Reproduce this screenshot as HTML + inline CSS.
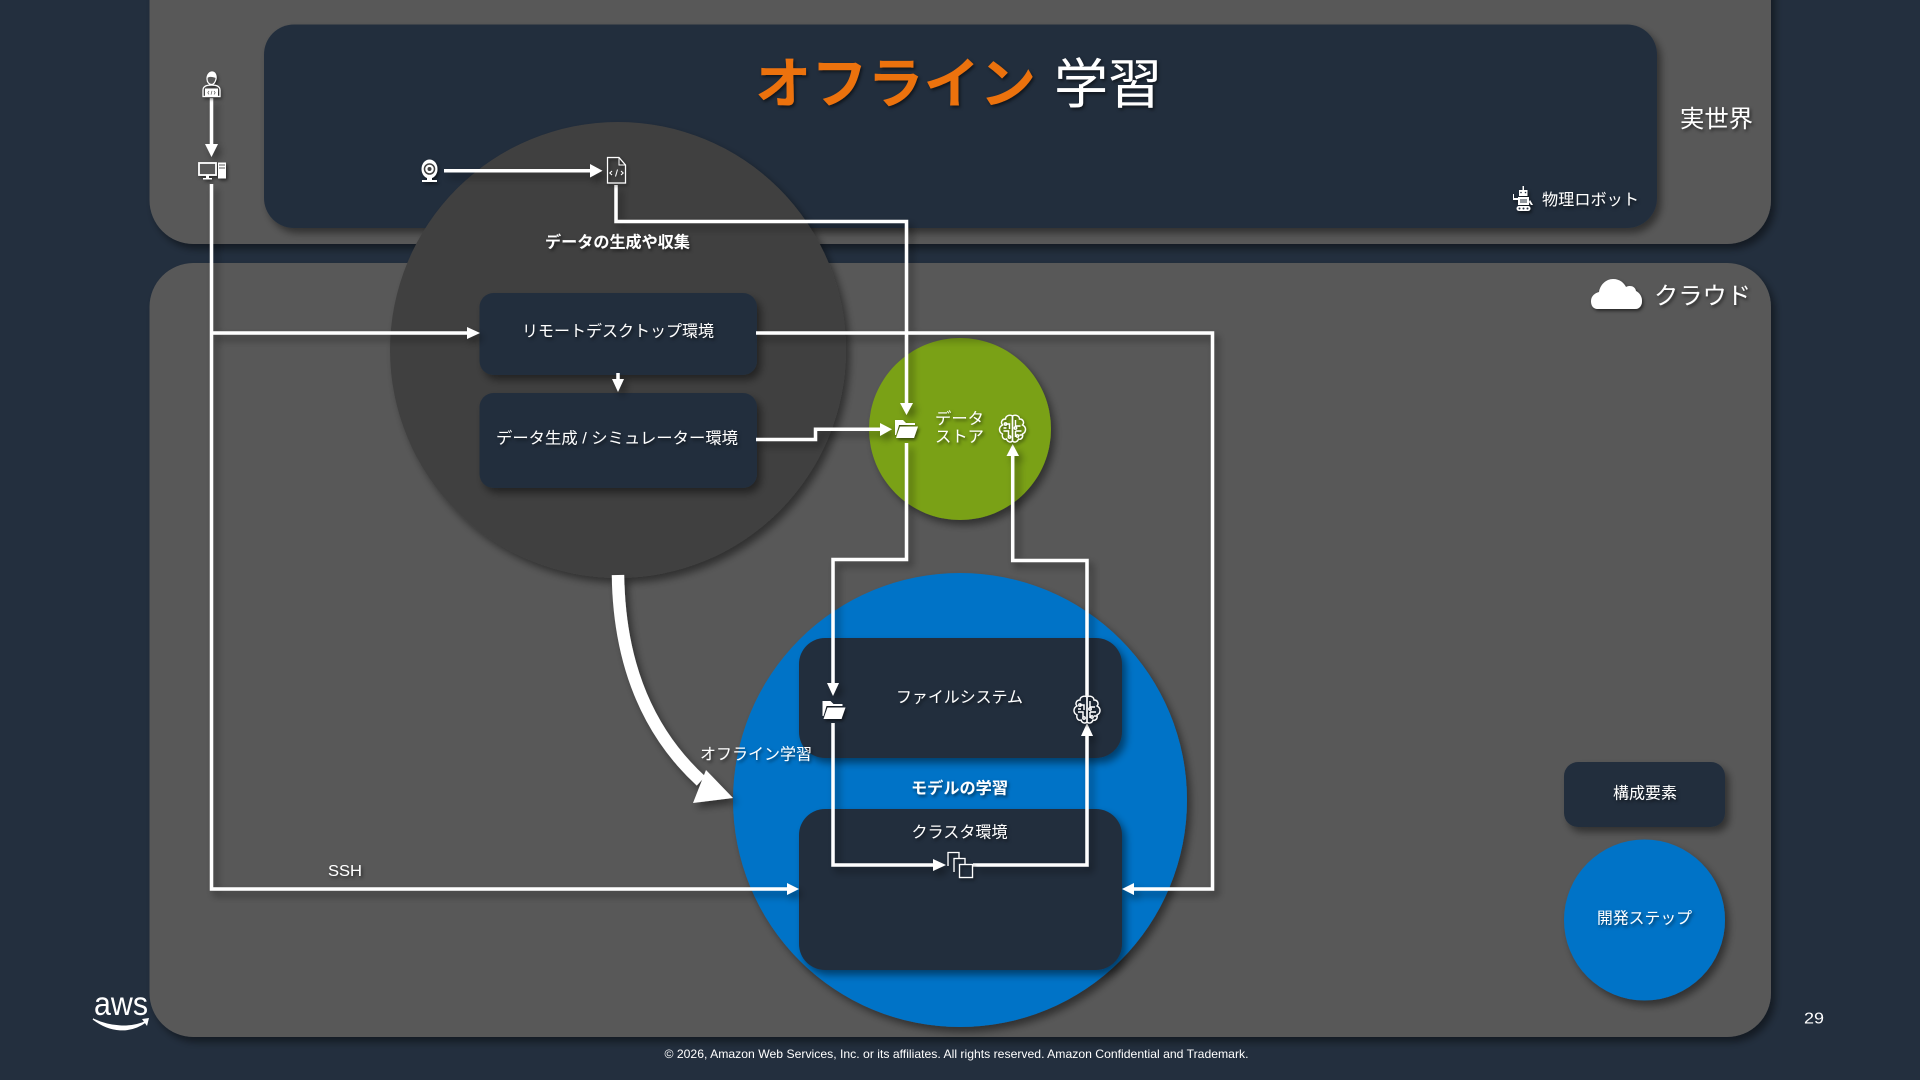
<!DOCTYPE html>
<html lang="ja"><head><meta charset="utf-8"><title>オフライン学習</title>
<style>
html,body{margin:0;padding:0;background:#232f3e;width:1920px;height:1080px;overflow:hidden}
svg{display:block}
text{font-family:"Liberation Sans","Noto Sans CJK JP",sans-serif;fill:#fff;font-size:16px}
</style></head><body>
<svg xmlns="http://www.w3.org/2000/svg" width="1920" height="1080" viewBox="0 0 1920 1080">
<defs>
<filter id="s" filterUnits="userSpaceOnUse" x="0" y="0" width="1920" height="1080"><feDropShadow dx="4" dy="5" stdDeviation="4" flood-color="#000" flood-opacity=".45"/></filter>
<filter id="t" filterUnits="userSpaceOnUse" x="0" y="0" width="1920" height="1080"><feDropShadow dx="1.5" dy="2" stdDeviation="1.5" flood-color="#000" flood-opacity=".55"/></filter>
<g id="brain" fill="none" stroke="#fff" stroke-width="1.4">
<path d="M0,-13 C-3,-15 -7,-13 -7,-10 C-11,-10 -12,-6 -10,-4 C-14,-2 -14,3 -10,5 C-11,9 -8,11 -6,10 C-5,13 -2,14 0,12 Z"/>
<path d="M0,-13 C3,-15 7,-13 7,-10 C11,-10 12,-6 10,-4 C14,-2 14,3 10,5 C11,9 8,11 6,10 C5,13 2,14 0,12 Z"/>
<path d="M-7,-5 L-3,-5 L-3,0 M-9,2 L-4,2 L-4,7 M3,-9 L3,-3 L8,-3 M3,2 L9,2 M3,2 L3,8 M-9,-1 L-6,-1 M7,6 L10,6"/>
<circle cx="-7" cy="-5" r="1.2"/><circle cx="3" cy="-1" r="1.2"/><circle cx="5" cy="7" r="1.2"/><circle cx="-3" cy="8" r="1.2"/>
</g>
<g id="folder"><path d="M-11,-9 L-3,-9 L0,-6 L9,-6 L9,-4 L-7,-4 L-10,6 L-11,6 Z" fill="#fff"/><path d="M-6,-2.5 L12,-2.5 L8,9 L-10,9 Z" fill="#fff"/></g>
</defs>
<rect width="1920" height="1080" fill="#232f3e"/>

<!-- panels -->
<rect x="149.500" y="-60" width="1621.500" height="304" rx="44" fill="#595959" filter="url(#s)"/>
<rect x="264" y="24.500" width="1393" height="203.500" rx="30" fill="#232f3e" filter="url(#s)"/>
<rect x="149.500" y="263" width="1621.500" height="774" rx="44" fill="#595959" filter="url(#s)"/>

<!-- circles -->
<circle cx="618" cy="350" r="228" fill="#404040" filter="url(#s)"/>
<circle cx="960" cy="429" r="91" fill="#7aa116" filter="url(#s)"/>
<circle cx="960" cy="800" r="227" fill="#0073c7" filter="url(#s)"/>

<!-- boxes -->
<rect x="479.500" y="293" width="277.500" height="82" rx="14" fill="#232f3e" filter="url(#s)"/>
<rect x="479.500" y="393" width="277.500" height="95" rx="14" fill="#232f3e" filter="url(#s)"/>
<rect x="799" y="638" width="323" height="120" rx="26" fill="#232f3e" filter="url(#s)"/>
<rect x="799" y="809" width="323" height="161" rx="26" fill="#232f3e" filter="url(#s)"/>
<rect x="1564" y="762" width="161" height="65" rx="14" fill="#232f3e" filter="url(#s)"/>
<circle cx="1644.500" cy="920" r="80.500" fill="#0073c7" filter="url(#s)"/>

<!-- connectors -->
<g filter="url(#s)">
<g fill="none" stroke="#fff" stroke-width="3.5">
<path d="M211.500,98V146"/>
<path d="M211.500,184V889H788"/>
<path d="M211.500,333H469"/>
<path d="M444,170.700H592"/>
<path d="M616,185V221.500H906.500V405"/>
<path d="M756,333H1212.500V889H1133"/>
<path d="M618,373V381"/>
<path d="M756,439.500H815.500V429.200H882"/>
<path d="M906.500,443V559.500H833V685"/>
<path d="M833,723V865H935"/>
<path d="M973,865H1087V736"/>
<path d="M1012.700,454V560.500H1087V696"/>
<path d="M618,575C619,650 640,725 701,781" stroke-width="12.500"/>
</g>
<g fill="#fff">
<path d="M205,144H218L211.500,157Z"/>
<path d="M467,327L480,333L467,339Z"/>
<path d="M590,164L602.500,170.700L590,177.500Z"/>
<path d="M900,403H913L906.500,415Z"/>
<path d="M612,379H624L618,392Z"/>
<path d="M880,423L892,429.200L880,436Z"/>
<path d="M827,683H839L833,696Z"/>
<path d="M933,859L946,865L933,871Z"/>
<path d="M1081,736H1093L1087,723Z"/>
<path d="M1006.500,456H1019L1012.700,444Z"/>
<path d="M787,883L799,889L787,895Z"/>
<path d="M1134,883L1122,889L1134,895Z"/>
<path d="M706,770L733,798L693,803Z"/>
</g>
</g>

<!-- icons -->
<g filter="url(#t)">
<!-- user -->
<path d="M207,79C207,74 210,72 212,72C215,72 216.500,75 216,79C215,83 213,84.500 211.500,84.500C209,84.500 207,82 207,79Z" fill="#595959" stroke="#fff" stroke-width="1.200"/>
<path d="M207,78C208,74 210,72 212,72C215,72 216.500,75 216,78C213,77 210,76 207,78Z" fill="#fff"/>
<path d="M203,96.500V90C203,86 207,85 211.500,85C216,85 220,86 220,90V96.500Z" fill="none" stroke="#fff" stroke-width="1.200"/>
<rect x="205" y="88.500" width="13" height="8.500" fill="#fff"/>
<path d="M209,91L207.800,92.700L209,94.400M214,91L215.200,92.700L214,94.400M212,90.800L211,94.600" fill="none" stroke="#595959" stroke-width=".7"/>
<!-- PC -->
<rect x="199" y="163" width="17" height="12" fill="#595959" stroke="#fff" stroke-width="1.800"/>
<path d="M203,178H212V179.500H203ZM206,175H209V178H206Z" fill="#fff"/>
<rect x="218" y="162.500" width="8" height="16" fill="#fff"/>
<path d="M219,165H225M219,168H225" stroke="#595959" stroke-width="1"/>
<!-- webcam -->
<ellipse cx="429.500" cy="169" rx="8" ry="9.500" fill="#fff"/>
<circle cx="429.500" cy="169" r="5" fill="none" stroke="#404040" stroke-width="1.500"/>
<circle cx="429.500" cy="169" r="2" fill="#404040"/>
<path d="M427,178H432V180H437V182H422V180H427Z" fill="#fff"/>
<!-- doc -->
<path d="M607.500,157.500H619L625.500,165V183H607.500Z" fill="none" stroke="#fff" stroke-width="1.200"/>
<path d="M619,157.500V165H625.500" fill="none" stroke="#fff" stroke-width="1"/>
<path d="M612,171L609.800,173L612,175M621,171L623.200,173L621,175M617.500,169.500L615.500,176.500" fill="none" stroke="#fff" stroke-width="1"/>
<!-- folders -->
<use href="#folder" x="906" y="429"/>
<use href="#folder" x="833.500" y="710"/>
<!-- brains -->
<use href="#brain" x="1012.500" y="429"/>
<use href="#brain" x="1087" y="710"/>
<!-- stack -->
<g fill="none" stroke="#fff" stroke-width="1.300">
<path d="M948,866V852.500H959V858"/>
<path d="M954,872V858.500H965V864"/>
<rect x="959.500" y="864.500" width="13" height="13"/>
</g>
<!-- robot -->
<g fill="#fff">
<rect x="1522.500" y="186" width="1.500" height="5"/>
<rect x="1519" y="190" width="8.500" height="6"/>
<rect x="1518" y="197" width="11" height="8"/>
<rect x="1516.500" y="206" width="14" height="5" rx="2.500"/>
<path d="M1514,194V198H1518V200H1513V194ZM1530,200L1533,205H1531L1529,202Z"/>
</g>
<g fill="#232f3e"><circle cx="1521" cy="192.500" r=".8"/><circle cx="1525.500" cy="192.500" r=".8"/><circle cx="1519.500" cy="208.500" r="1"/><circle cx="1523.500" cy="208.500" r="1"/><circle cx="1527.500" cy="208.500" r="1"/><path d="M1520,199H1527V203H1520Z" opacity=".5"/></g>
<!-- cloud -->
<path d="M1598,309C1592,309 1591,304 1591,301C1591,296 1595,293 1599,292C1600,285 1606,279 1613,279C1620,279 1624,283 1626,287C1630,285 1635,286 1636,291C1640,293 1642,297 1642,301C1642,305 1640,309 1635,309Z" fill="#fff"/>
</g>

<!-- labels -->
<g filter="url(#t)">
<text x="755" y="103" font-weight="700" style="font-size:55px;fill:#ec7211" textLength="281" lengthAdjust="spacingAndGlyphs">オフライン</text>
<text x="1054" y="103" style="font-size:54px" textLength="108" lengthAdjust="spacingAndGlyphs">学習</text>
<text x="1680" y="127" style="font-size:24px" textLength="73" lengthAdjust="spacingAndGlyphs">実世界</text>
<text x="1542" y="205" textLength="97" lengthAdjust="spacingAndGlyphs">物理ロボット</text>
<text x="1654" y="304" style="font-size:24px" textLength="97" lengthAdjust="spacingAndGlyphs">クラウド</text>
<text x="545" y="247.500" font-weight="700" textLength="145" lengthAdjust="spacingAndGlyphs">データの生成や収集</text>
<text x="522" y="336.500" textLength="192" lengthAdjust="spacingAndGlyphs">リモートデスクトップ環境</text>
<text x="496" y="443.500" textLength="242" lengthAdjust="spacingAndGlyphs">データ生成 / シミュレーター環境</text>
<text x="935" y="424" textLength="49" lengthAdjust="spacingAndGlyphs">データ</text>
<text x="935" y="442" textLength="49" lengthAdjust="spacingAndGlyphs">ストア</text>
<text x="896" y="702.500" textLength="127" lengthAdjust="spacingAndGlyphs">ファイルシステム</text>
<text x="911" y="793.500" font-weight="700" textLength="97" lengthAdjust="spacingAndGlyphs">モデルの学習</text>
<text x="911.500" y="837.500" textLength="96" lengthAdjust="spacingAndGlyphs">クラスタ環境</text>
<text x="700" y="759.500" textLength="112" lengthAdjust="spacingAndGlyphs">オフライン学習</text>
<text x="328" y="876" textLength="34" lengthAdjust="spacingAndGlyphs">SSH</text>
<text x="1613" y="798.500" textLength="64" lengthAdjust="spacingAndGlyphs">構成要素</text>
<text x="1597" y="923.500" textLength="95" lengthAdjust="spacingAndGlyphs">開発ステップ</text>
</g>
<text x="1804" y="1023.500" textLength="20" lengthAdjust="spacingAndGlyphs">29</text>
<text x="664.500" y="1058" style="font-size:12px" textLength="584" lengthAdjust="spacingAndGlyphs">© 2026, Amazon Web Services, Inc. or its affiliates. All rights reserved. Amazon Confidential and Trademark.</text>

<!-- aws logo -->
<text x="94" y="1015" style="font-size:33px" textLength="54" lengthAdjust="spacingAndGlyphs">aws</text>
<path d="M93,1019C110,1032 130,1034 147,1021C130,1029 110,1027 93,1019Z" fill="#fff" stroke="#fff" stroke-width="1.200"/>
<path d="M142,1019L149,1018L147,1026Z" fill="#fff"/>
</svg>
</body></html>
